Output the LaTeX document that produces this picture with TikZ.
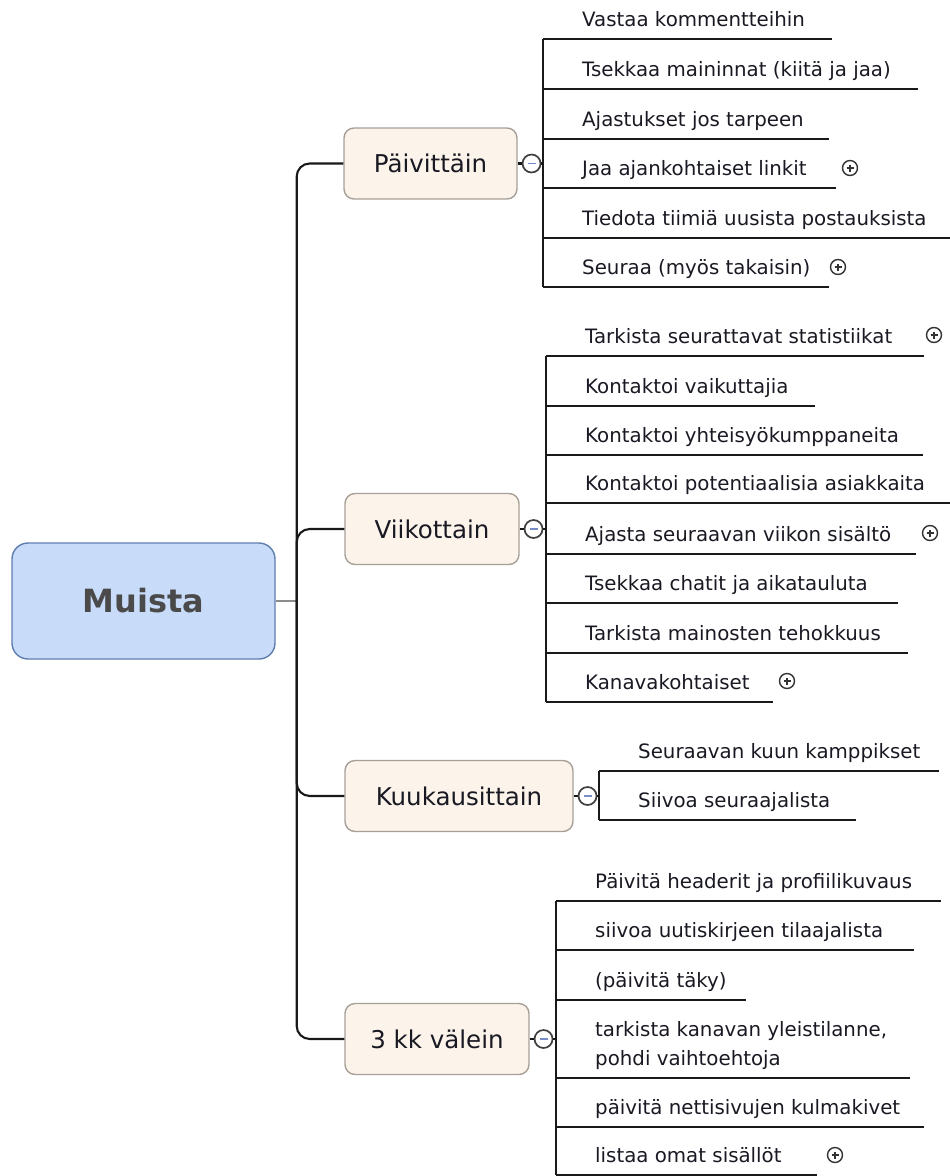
\documentclass[tikz,border=0pt]{standalone}
\usepackage{fontspec}
\setmainfont{DejaVu Sans}
\usetikzlibrary{positioning}
\definecolor{rootfill}{RGB}{200,220,250}
\definecolor{rootline}{RGB}{94,126,176}
\definecolor{rootink}{RGB}{74,74,74}
\definecolor{branchfill}{RGB}{252,243,234}
\definecolor{branchline}{RGB}{166,160,152}
\definecolor{ink}{RGB}{25,25,35}
\definecolor{minusblue}{RGB}{120,140,200}
\tikzset{x=1pt, y=-1pt, line join=round, node distance=4pt}
\tikzstyle{root} = [draw=rootline, fill=rootfill, line width=1.4pt, rounded corners=16pt, minimum width=263pt, minimum height=116pt, text=rootink, font=\fontsize{32}{32}\selectfont\bfseries]
\tikzstyle{branch} = [draw=branchline, fill=branchfill, line width=1.4pt, rounded corners=10pt, minimum height=71pt, text=ink, font=\fontsize{24.5}{24.5}\selectfont]
\tikzstyle{leaf} = [anchor=south west, inner xsep=0pt, inner ysep=8.5pt, text height=15pt, text depth=4pt, text=ink, font=\fontsize{19.8}{28.5}\selectfont]
\tikzstyle{collapse} = [draw=black!75, fill=white, circle, line width=1.7pt, minimum size=18pt, inner sep=0pt, path picture={\draw [minusblue, line width=1.2pt] ([xshift=-4pt]path picture bounding box.center) -- ([xshift=4pt]path picture bounding box.center);}]
\tikzstyle{expand} = [draw=black!80, fill=white, circle, line width=1.4pt, minimum size=15pt, inner sep=0pt, path picture={\draw [black!80, line width=1.2pt] ([xshift=-3.5pt]path picture bounding box.center) -- ([xshift=3.5pt]path picture bounding box.center) ([yshift=-3.5pt]path picture bounding box.center) -- ([yshift=3.5pt]path picture bounding box.center);}]
\tikzstyle{wire} = [draw=black!90, line width=2.1pt]
\tikzstyle{trunk} = [wire, rounded corners=13pt]
\tikzstyle{stem} = [draw=black!45, line width=1.3pt]
\newcommand{\leafbox}[2]{\makebox[#1pt][l]{\hspace*{39pt}#2}}

\begin{document}
\begin{tikzpicture}
		\useasboundingbox (0,0) rectangle (950,1176);

		\node [root] (root) at (143.5,601) {Muista};
		\coordinate [right=21pt of root] (hub);

		\node [branch, minimum width=173pt] (daily) at (430.5,163.5) {Päivittäin};
		\node [branch, minimum width=174pt] (weekly) at (432,529) {Viikottain};
		\node [branch, minimum width=228pt] (monthly) at (459,796) {Kuukausittain};
		\node [branch, minimum width=184pt] (quarterly) at (437,1039) {3 kk välein};

		\node [collapse, right=of daily] (daily_c) {};
		\node [collapse, right=of weekly] (weekly_c) {};
		\node [collapse, right=of monthly] (monthly_c) {};
		\node [collapse, right=of quarterly] (quarterly_c) {};

		\node [leaf] (d1) at (543,39) {\leafbox{289}{Vastaa kommentteihin}};
		\node [leaf] (d2) at (543,89) {\leafbox{375}{Tsekkaa maininnat (kiitä ja jaa)}};
		\node [leaf] (d3) at (543,139) {\leafbox{286}{Ajastukset jos tarpeen}};
		\node [leaf] (d4) at (543,188) {\leafbox{293}{Jaa ajankohtaiset linkit}};
		\node [leaf] (d5) at (543,238) {\leafbox{413}{Tiedota tiimiä uusista postauksista}};
		\node [leaf] (d6) at (543,287) {\leafbox{286}{Seuraa (myös takaisin)}};

		\node [leaf] (w1) at (546,356) {\leafbox{378}{Tarkista seurattavat statistiikat}};
		\node [leaf] (w2) at (546,406) {\leafbox{269}{Kontaktoi vaikuttajia}};
		\node [leaf] (w3) at (546,455) {\leafbox{377}{Kontaktoi yhteisyökumppaneita}};
		\node [leaf] (w4) at (546,503) {\leafbox{409}{Kontaktoi potentiaalisia asiakkaita}};
		\node [leaf] (w5) at (546,554) {\leafbox{370}{Ajasta seuraavan viikon sisältö}};
		\node [leaf] (w6) at (546,603) {\leafbox{352}{Tsekkaa chatit ja aikatauluta}};
		\node [leaf] (w7) at (546,653) {\leafbox{362}{Tarkista mainosten tehokkuus}};
		\node [leaf] (w8) at (546,702) {\leafbox{227}{Kanavakohtaiset}};

		\node [leaf] (m1) at (599,771) {\leafbox{340}{Seuraavan kuun kamppikset}};
		\node [leaf] (m2) at (599,820) {\leafbox{257}{Siivoa seuraajalista}};

		\node [leaf] (q1) at (556,901) {\leafbox{385}{Päivitä headerit ja profiilikuvaus}};
		\node [leaf] (q2) at (556,950) {\leafbox{358}{siivoa uutiskirjeen tilaajalista}};
		\node [leaf] (q3) at (556,1000) {\leafbox{190}{(päivitä täky)}};
		\node [leaf] (q4) at (556,1078) {\leafbox{354}{\begin{tabular}[b]{@{}l@{}}tarkista kanavan yleistilanne,\\pohdi vaihtoehtoja\end{tabular}}};
		\node [leaf] (q5) at (556,1127) {\leafbox{368}{päivitä nettisivujen kulmakivet}};
		\node [leaf] (q6) at (556,1175) {\leafbox{261}{listaa omat sisällöt}};

		\node [expand] (d4_x) at (850,168) {};
		\node [expand] (d6_x) at (838,267) {};
		\node [expand] (w1_x) at (934,335) {};
		\node [expand] (w5_x) at (930,533) {};
		\node [expand] (w8_x) at (787,681) {};
		\node [expand] (q6_x) at (835,1155) {};

		\draw [stem] (root) -- (hub);
		\draw [trunk] (hub) |- (daily);
		\draw [trunk] (hub) |- (weekly);
		\draw [trunk] (hub) |- (monthly);
		\draw [trunk] (hub) |- (quarterly);

		\draw [wire] (daily) -- (daily_c);
		\draw [wire] (weekly) -- (weekly_c);
		\draw [wire] (monthly) -- (monthly_c);
		\draw [wire] (quarterly) -- (quarterly_c);

		\draw [wire] (daily_c) -- (daily_c -| d1.south west);
		\draw [wire] (weekly_c) -- (weekly_c -| w1.south west);
		\draw [wire] (monthly_c) -- (monthly_c -| m1.south west);
		\draw [wire] (quarterly_c) -- (quarterly_c -| q1.south west);

		\draw [wire] (d1.south west) -- (d6.south west);
		\draw [wire] (w1.south west) -- (w8.south west);
		\draw [wire] (m1.south west) -- (m2.south west);
		\draw [wire] (q1.south west) -- (q6.south west);

		\foreach \n in {d1,d2,d3,d4,d5,d6,w1,w2,w3,w4,w5,w6,w7,w8,m1,m2,q1,q2,q3,q4,q5,q6}
			\draw [wire] (\n.south west) -- (\n.south east);

	\end{tikzpicture}
\end{document}
